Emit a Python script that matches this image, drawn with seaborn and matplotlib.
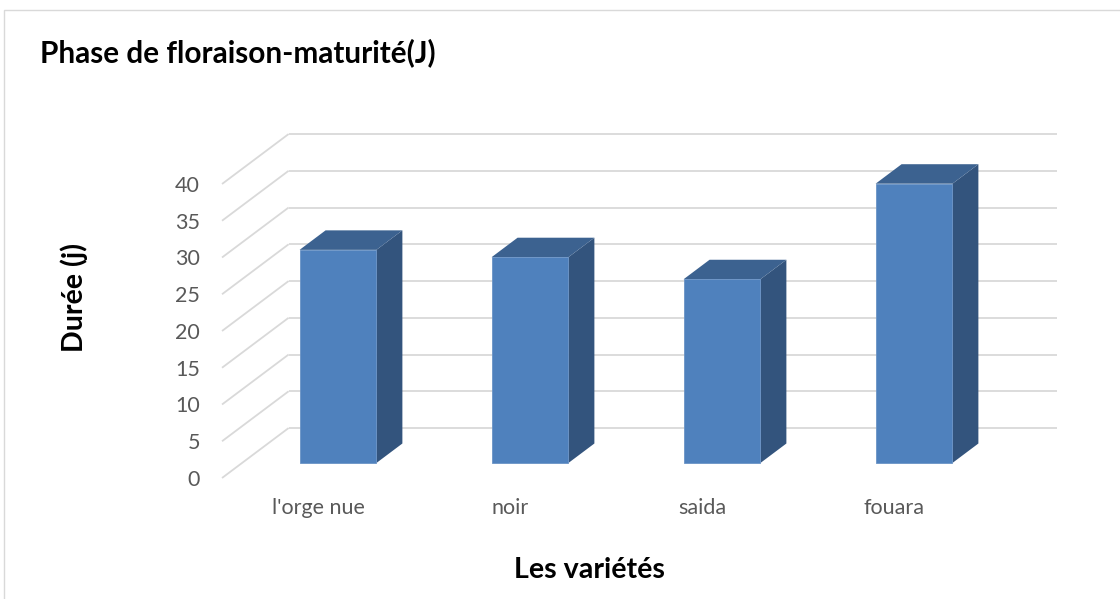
import matplotlib
matplotlib.use("Agg")
import matplotlib.pyplot as plt
from matplotlib.patches import Polygon, Rectangle
import seaborn as sns
import pandas as pd

# ---- data -------------------------------------------------------------
varieties = ["l'orge nue", "noir", "saida", "fouara"]
durations = [29, 28, 25, 38]
y_ticks = [0, 5, 10, 15, 20, 25, 30, 35, 40]

title = "Phase de floraison-maturité(J)"
x_label = "Les variétés"
y_label = "Durée (j)"

# ---- style ------------------------------------------------------------
FRONT = "#4f81bd"
SIDE = "#33547d"
TOP = "#3c6290"
GRID = "#d9d9d9"
TEXT = "#595959"

# pseudo-3D depth of the floor, in data units (categories, days)
DEPTH_X, DEPTH_Y = 0.347, 6.8
BAR_FRONT = 0.30   # where the bar front faces sit along the depth
BAR_DEPTH = 0.39   # thickness of a bar along the depth

sns.set_theme(style="white")
plt.rcParams["font.family"] = ["Lato", "DejaVu Sans"]

W, H = 1120, 599
fig = plt.figure(figsize=(W / 100, H / 100), dpi=100)

# axes rectangle, in pixels
x0_px, x1_px = 213.2, 1067.6
y_top_px, y_bot_px = 124.9, 485.05
ax = fig.add_axes([x0_px / W, 1 - y_bot_px / H,
                   (x1_px - x0_px) / W, (y_bot_px - y_top_px) / H])

df = pd.DataFrame({"variete": varieties, "duree": durations})
sns.barplot(data=df, x="variete", y="duree", color=FRONT, saturation=1,
            width=0.4, ax=ax, zorder=3, edgecolor="#6a93c6", linewidth=0.6)

ax.set_xlim(-0.65, 3.8)
ax.set_ylim(-3, 46)

# floor front edge and back wall offsets relative to the bar front plane
fx, fy = -BAR_FRONT * DEPTH_X, -BAR_FRONT * DEPTH_Y
bx, by = (1 - BAR_FRONT) * DEPTH_X, (1 - BAR_FRONT) * DEPTH_Y
n = len(varieties)
left, right = -0.5, n - 0.5

# gridlines: side-wall diagonals + back-wall horizontals
for v in y_ticks:
    ax.plot([left + fx, left + bx], [v + fy, v + by], color=GRID, lw=1.3,
            zorder=1, solid_capstyle="butt")
    ax.plot([left + bx, right + bx], [v + by, v + by], color=GRID, lw=1.3,
            zorder=1, solid_capstyle="butt")

# side and top faces of every bar
dx, dy = BAR_DEPTH * DEPTH_X, BAR_DEPTH * DEPTH_Y
for bar in list(ax.patches):
    x, w = bar.get_x(), bar.get_width()
    y0, h = bar.get_y(), bar.get_height()
    side = Polygon([(x + w, y0), (x + w + dx, y0 + dy),
                    (x + w + dx, y0 + h + dy), (x + w, y0 + h)],
                   closed=True, fc=SIDE, ec="none", zorder=2.9)
    top = Polygon([(x, y0 + h), (x + dx, y0 + h + dy),
                   (x + w + dx, y0 + h + dy), (x + w, y0 + h)],
                  closed=True, fc=TOP, ec="none", zorder=2.9)
    ax.add_patch(side)
    ax.add_patch(top)

# ticks sit on the front edge of the floor
ax.set_yticks([v + fy for v in y_ticks], labels=[str(v) for v in y_ticks])
ax.set_xticks([i + fx for i in range(n)], labels=varieties)
ax.tick_params(axis="both", length=0, colors=TEXT, labelsize=15.5)
ax.tick_params(axis="x", pad=9)
ax.tick_params(axis="y", pad=9.5)
ax.set_xlabel("")
ax.set_ylabel("")
ax.grid(False)
for s in ax.spines.values():
    s.set_visible(False)

# titles
fig.text(40 / W, 1 - 62 / H, title, fontsize=21.4, fontweight="bold",
         color="black", ha="left", va="baseline")
fig.text(589 / W, 1 - 578 / H, x_label, fontsize=20.6, fontweight="bold",
         color="black", ha="center", va="baseline")
fig.text(74 / W, 1 - 297 / H, y_label, fontsize=20.6, fontweight="bold",
         color="black", ha="center", va="center", rotation=90)

# chart-area border
fig.add_artist(Rectangle((4 / W, -0.05), 1.2, 1 - 10 / H + 0.05,
                         transform=fig.transFigure, fill=False,
                         ec="#d9d9d9", lw=1))

fig.savefig("out.png", dpi=100)
